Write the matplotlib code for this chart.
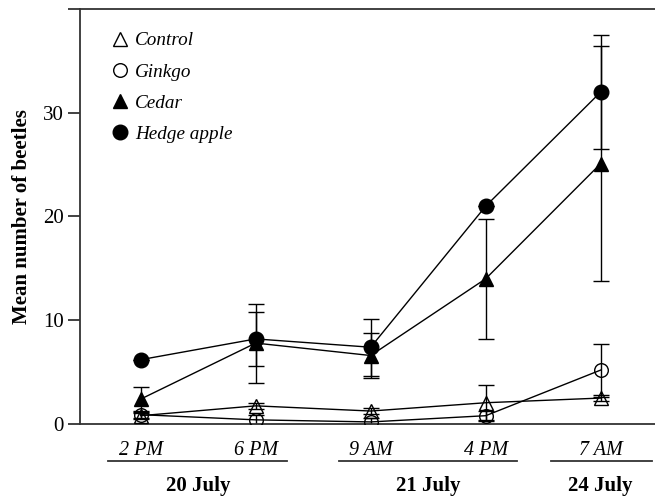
import matplotlib
matplotlib.use("Agg")
import matplotlib.pyplot as plt
from matplotlib.lines import Line2D
import matplotlib.transforms as mtransforms

plt.rcParams['font.family'] = ['Liberation Serif', 'DejaVu Serif']

times = ["2 PM", "6 PM", "9 AM", "4 PM", "7 AM"]
groups = ["20 July", "21 July", "24 July"]
group_span = [(0, 1), (2, 3), (4, 4)]

control = [0.8, 1.75, 1.25, 2.05, 2.5]
control_err = [0.3, 0.3, 0.3, 1.7, 0.3]
ginkgo = [0.9, 0.4, 0.2, 0.8, 5.2]
ginkgo_err = [0.3, 0.5, 0.4, 0.5, 2.55]
cedar = [2.4, 7.8, 6.6, 14.0, 25.1]
cedar_err = [1.15, 3.8, 2.15, 5.8, 11.3]
hedge = [6.2, 8.2, 7.4, 21.0, 32.0]
hedge_err = [0.0, 2.6, 2.75, 0.0, 5.5]

fig = plt.figure(figsize=(6.55, 4.99), dpi=100)
ax = fig.add_axes([80/655, 1-424/499, 575/655, 415/499])

x = list(range(len(times)))
series = [
    ("Control", control, control_err, '^', 'none', 10),
    ("Ginkgo", ginkgo, ginkgo_err, 'o', 'none', 9.8),
    ("Cedar", cedar, cedar_err, '^', 'black', 10.5),
    ("Hedge apple", hedge, hedge_err, 'o', 'black', 10.5),
]
handles = []
for name, vals, errs, mk, fc, ms in series:
    ax.errorbar(x, vals, yerr=errs, fmt='none', ecolor='black', elinewidth=1.0,
                capsize=5.8, capthick=1.0, zorder=2)
    ax.plot(x, vals, color='black', lw=1.0, zorder=3)
    ax.plot(x, vals, linestyle='none', marker=mk, markersize=ms,
            markerfacecolor=fc, markeredgecolor='black', markeredgewidth=1.0, zorder=4)
    handles.append(Line2D([], [], linestyle='none', marker=mk, markersize=ms,
                          markerfacecolor=fc, markeredgecolor='black', markeredgewidth=1.0,
                          label=name))

ax.set_xlim(-0.528, 4.472)
ax.set_ylim(0, 40)
ax.set_yticks([0, 10, 20, 30, 40])
ax.set_yticklabels(["0", "10", "20", "30", ""], fontsize=15)
ax.set_xticks([])
ax.tick_params(axis='y', direction='out', length=8.5, width=1.3, colors='#333333', pad=3)
for lab in ax.get_yticklabels():
    lab.set_color('black')
ax.spines['right'].set_visible(False)
for s in ['left', 'top', 'bottom']:
    ax.spines[s].set_color('#333333')
    ax.spines[s].set_linewidth(1.3)

ax.set_ylabel("Mean number of beetles", fontsize=15, fontweight='bold', labelpad=8)

leg = ax.legend(handles=handles, loc='upper left', bbox_to_anchor=(0.039, 0.963),
                frameon=False, prop={'style': 'italic', 'size': 13.8},
                handletextpad=0.3, labelspacing=0.72, handlelength=1.0,
                borderaxespad=0)

trans = mtransforms.blended_transform_factory(ax.transData, ax.transAxes)
for xi, t in zip(x, times):
    ax.text(xi, -0.065, t, transform=trans, ha='center', va='center',
            fontsize=14.5, style='italic', clip_on=False)

line_spans = [(-0.284, 1.271), (1.724, 3.272), (3.567, 4.446)]
for (a, b), (i0, i1), g in zip(line_spans, group_span, groups):
    ax.plot([a, b], [-0.089, -0.089], transform=trans, color='#333333', lw=1.3,
            clip_on=False)
    ax.text((i0 + i1) / 2, -0.150, g, transform=trans,
            ha='center', va='center', fontsize=15, fontweight='bold', clip_on=False)

fig.savefig("out.png", dpi=100)
